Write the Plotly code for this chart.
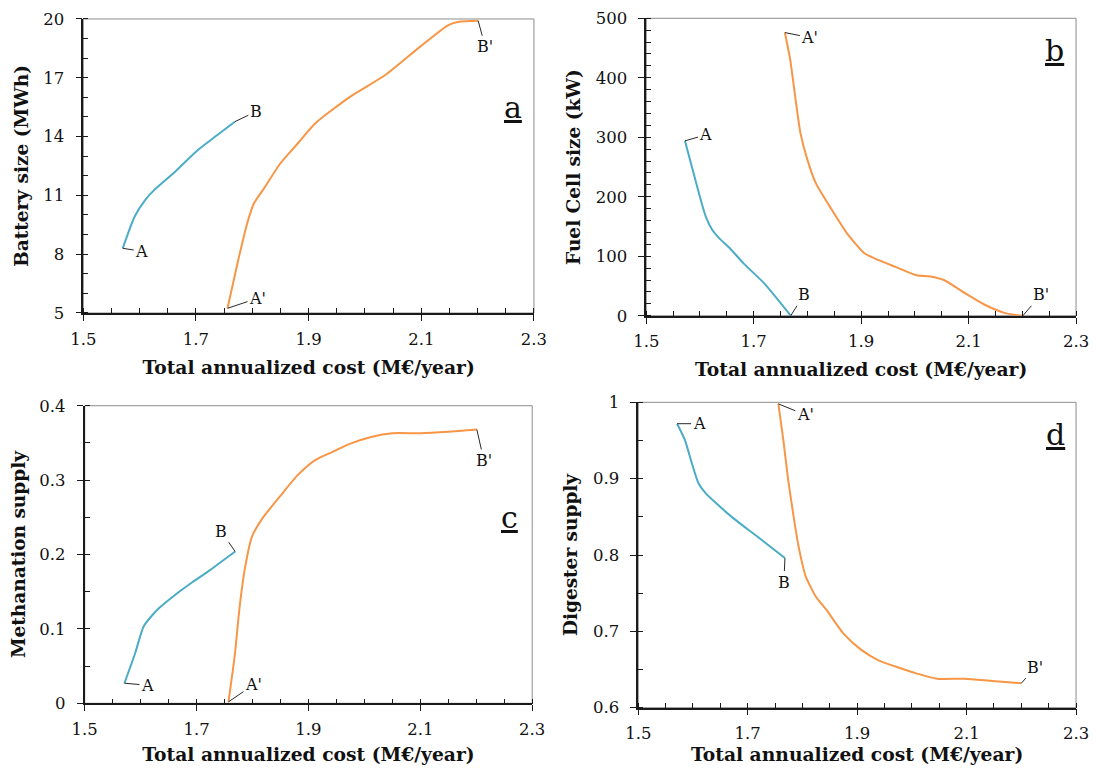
import plotly.graph_objects as go

# ---------------- data ----------------
# Panel a: battery size (MWh)
a_blue_x = [1.570, 1.591, 1.610, 1.626, 1.663, 1.700, 1.738, 1.769]
a_blue_y = [8.30, 9.91, 10.77, 11.28, 12.21, 13.23, 14.08, 14.76]
a_orange_x = [1.756, 1.775, 1.791, 1.803, 1.819, 1.850, 1.881, 1.912, 1.974, 2.036, 2.098, 2.148, 2.167, 2.201]
a_orange_y = [5.24, 7.70, 9.58, 10.60, 11.28, 12.64, 13.66, 14.68, 16.04, 17.14, 18.59, 19.69, 19.86, 19.91]

# Panel b: fuel cell size (kW)
b_blue_x = [1.572, 1.585, 1.598, 1.611, 1.623, 1.636, 1.656, 1.681, 1.720, 1.769]
b_blue_y = [294, 250, 206, 166, 144, 130, 113, 88, 54, 0]
b_orange_x = [1.758, 1.768, 1.778, 1.787, 1.800, 1.816, 1.842, 1.874, 1.906, 1.926, 1.964, 2.003, 2.029, 2.054, 2.093, 2.131, 2.170, 2.201]
b_orange_y = [476, 430, 363, 307, 262, 222, 183, 138, 105, 96, 82, 68, 66, 60, 38, 18, 4, 0]

# Panel c: methanation supply
c_blue_x = [1.571, 1.590, 1.605, 1.618, 1.633, 1.662, 1.693, 1.724, 1.749, 1.769]
c_blue_y = [0.027, 0.067, 0.103, 0.116, 0.128, 0.146, 0.163, 0.179, 0.193, 0.204]
c_orange_x = [1.757, 1.768, 1.777, 1.787, 1.799, 1.818, 1.849, 1.881, 1.912, 1.943, 1.975, 2.012, 2.050, 2.100, 2.150, 2.201]
c_orange_y = [0.002, 0.063, 0.130, 0.184, 0.224, 0.249, 0.278, 0.307, 0.327, 0.338, 0.349, 0.358, 0.363, 0.363, 0.365, 0.368]

# Panel d: digester supply
d_blue_x = [1.571, 1.585, 1.598, 1.610, 1.623, 1.642, 1.674, 1.718, 1.768]
d_blue_y = [0.972, 0.951, 0.920, 0.894, 0.881, 0.868, 0.848, 0.824, 0.796]
d_orange_x = [1.756, 1.765, 1.774, 1.784, 1.793, 1.806, 1.825, 1.844, 1.875, 1.907, 1.939, 1.970, 2.008, 2.046, 2.096, 2.147, 2.200]
d_orange_y = [0.998, 0.951, 0.898, 0.850, 0.811, 0.772, 0.745, 0.728, 0.697, 0.676, 0.662, 0.654, 0.645, 0.638, 0.638, 0.635, 0.632]

x_title = "Total annualized cost (M€/year)"
y_titles = ["Battery size (MWh)", "Fuel Cell size (kW)", "Methanation supply", "Digester supply"]
panel_letters = ["a", "b", "c", "d"]

BLUE = "#4BACC6"
ORANGE = "#F79646"
FONT = "DejaVu Serif"

fig = go.Figure()

panels = [
    dict(bx=a_blue_x, by=a_blue_y, ox=a_orange_x, oy=a_orange_y,
         xd=[0.0696, 0.4861], yd=[0.5971, 0.9855], yr=[5, 20], ytv=[5, 8, 11, 14, 17, 20], ymin=1,
         letter_pos=(0.953, 0.70), xstand=13,
         lab=dict(A=(19, 3), B=(21, -10), Ap=(30, -10), Bp=(7, 26))),
    dict(bx=b_blue_x, by=b_blue_y, ox=b_orange_x, oy=b_orange_y,
         xd=[0.5899, 0.9871], yd=[0.5935, 0.9864], yr=[0, 500], ytv=[0, 100, 200, 300, 400, 500], ymin=20,
         letter_pos=(0.950, 0.893), xstand=13,
         lab=dict(A=(21, -6), B=(13, -21), Ap=(25, 5), Bp=(18, -21))),
    dict(bx=c_blue_x, by=c_blue_y, ox=c_orange_x, oy=c_orange_y,
         xd=[0.0709, 0.4845], yd=[0.0815, 0.4746], yr=[0, 0.4], ytv=[0, 0.1, 0.2, 0.3, 0.4], ymin=0.05,
         letter_pos=(0.949, 0.623), xstand=11,
         lab=dict(A=(23, 2), B=(-14, -20), Ap=(25, -17), Bp=(7, 31))),
    dict(bx=d_blue_x, by=d_blue_y, ox=d_orange_x, oy=d_orange_y,
         xd=[0.5825, 0.9871], yd=[0.0757, 0.4791], yr=[0.6, 1.0], ytv=[0.6, 0.7, 0.8, 0.9, 1.0], ymin=0.05,
         letter_pos=(0.954, 0.893), xstand=9,
         lab=dict(A=(22, 0), B=(-1, 24), Ap=(27, 11), Bp=(14, -16))),
]

layout_updates = {}
annotations = []
shapes = []
for i, p in enumerate(panels):
    n = "" if i == 0 else str(i + 1)
    xa, ya = "x" + n, "y" + n
    for xs, ys, col in ((p["bx"], p["by"], BLUE), (p["ox"], p["oy"], ORANGE)):
        fig.add_trace(go.Scatter(x=xs, y=ys, mode="lines",
                                 line=dict(color=col, width=2, shape="spline", smoothing=0.6),
                                 xaxis=xa, yaxis=ya, showlegend=False))
    layout_updates["xaxis" + n] = dict(
        domain=p["xd"], anchor=ya, range=[1.5, 2.3], tickvals=[1.5, 1.7, 1.9, 2.1, 2.3],
        ticktext=["1.5", "1.7", "1.9", "2.1", "2.3"], automargin=False, ticklabeloverflow="allow",
        showgrid=False, zeroline=False, showline=True, linecolor="#1a1a1a", linewidth=1.6,
        ticks="outside", ticklen=6, tickwidth=1.2, tickcolor="#1a1a1a", ticklabelstandoff=4,
        minor=dict(dtick=0.05, tick0=1.5, ticks="inside", ticklen=5, tickwidth=1, tickcolor="#1a1a1a"),
        tickfont=dict(family=FONT, size=16.5, color="#111"),
        title=dict(text="<b>" + x_title + "</b>", font=dict(family=FONT, size=18.7, color="#111"),
                   standoff=p["xstand"]),
    )
    layout_updates["yaxis" + n] = dict(
        domain=p["yd"], anchor=xa, range=p["yr"], tickvals=p["ytv"], automargin=False,
        ticklabeloverflow="allow",
        showgrid=False, zeroline=False, showline=True, linecolor="#1a1a1a", linewidth=1.6,
        ticks="outside", ticklen=6, tickwidth=1.2, tickcolor="#1a1a1a", ticklabelstandoff=8,
        minor=dict(dtick=p["ymin"], ticks="inside", ticklen=5, tickwidth=1, tickcolor="#1a1a1a"),
        tickfont=dict(family=FONT, size=16.5, color="#111"),
        title=dict(text="<b>" + y_titles[i] + "</b>", font=dict(family=FONT, size=18.5, color="#111"), standoff=10),
    )
    # gray frame (top/right border)
    shapes.append(dict(type="rect", xref=xa + " domain", yref=ya + " domain", x0=0, x1=1, y0=0, y1=1,
                       line=dict(color="#8c8c8c", width=1), layer="below"))
    # panel letter
    annotations.append(dict(xref=xa + " domain", yref=ya + " domain", x=p["letter_pos"][0], y=p["letter_pos"][1],
                            xanchor="center", yanchor="middle",
                            text="<u>" + panel_letters[i] + "</u>", showarrow=False,
                            font=dict(family=FONT, size=30, color="#111")))
    # endpoint labels with leader lines
    ends = [("A", p["bx"][0], p["by"][0], p["lab"]["A"]),
            ("B", p["bx"][-1], p["by"][-1], p["lab"]["B"]),
            ("A'", p["ox"][0], p["oy"][0], p["lab"]["Ap"]),
            ("B'", p["ox"][-1], p["oy"][-1], p["lab"]["Bp"])]
    for txt, x, y, (ax, ay) in ends:
        annotations.append(dict(xref=xa, yref=ya, x=x, y=y, text=txt, showarrow=True, arrowhead=0,
                                arrowwidth=0.9, arrowcolor="#111", ax=ax, ay=ay, standoff=0,
                                font=dict(family=FONT, size=16, color="#111")))

fig.update_layout(
    width=1082, height=757, autosize=False,
    margin=dict(l=0, r=0, t=0, b=0, autoexpand=False),
    paper_bgcolor="white", plot_bgcolor="white",
    annotations=annotations, shapes=shapes,
    **layout_updates,
)

fig.write_html("out.html")
